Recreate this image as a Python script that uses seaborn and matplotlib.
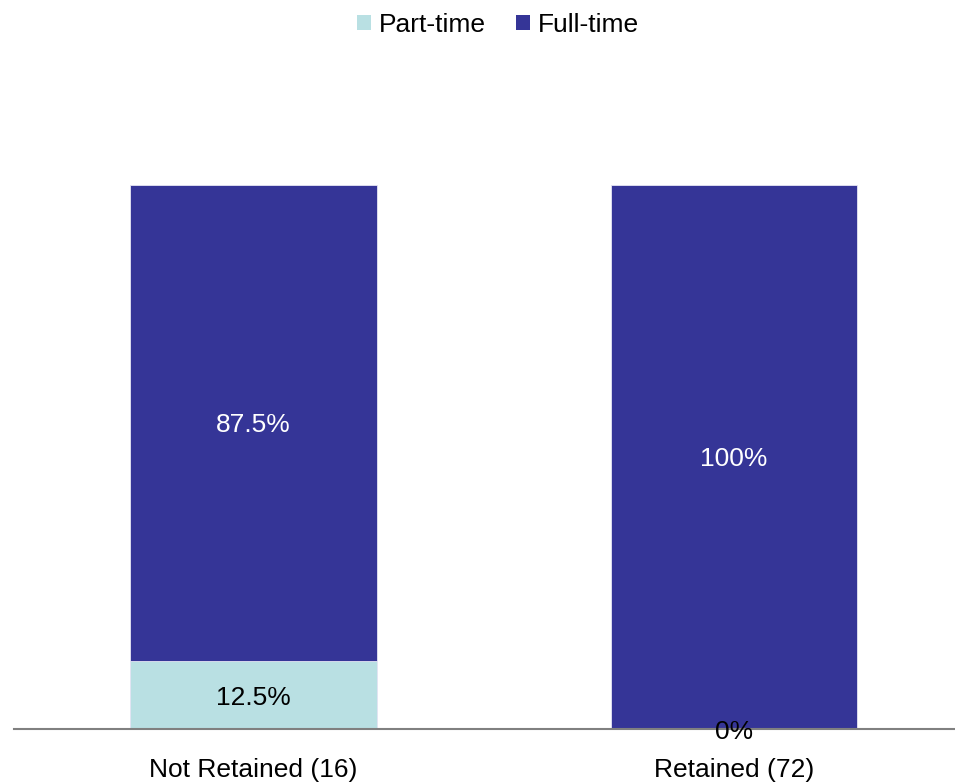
import matplotlib
matplotlib.use("Agg")
import matplotlib.pyplot as plt
from matplotlib.patches import Patch
import seaborn as sns
import pandas as pd

# Employment status share by retention group
categories = ["Not Retained (16)", "Retained (72)"]
part_time = [12.5, 0.0]
full_time = [87.5, 100.0]
series_names = ["Part-time", "Full-time"]

part_color = "#B9E0E3"
full_color = "#353597"

sns.set_theme(style="white")
plt.rcParams["font.family"] = ["Liberation Sans", "DejaVu Sans"]

FS = 19

df = pd.DataFrame({
    "group": categories,
    "part": part_time,
    "full": full_time,
})
df["total"] = df["part"] + df["full"]

fig = plt.figure(figsize=(9.55, 7.83), dpi=100)
ax = fig.add_axes([14 / 955, 1 - 729 / 783, 1 - 14 / 955, (729 - 185) / 783])

# Stacked bars: full stack drawn first, part-time segment overlaid at the base
sns.barplot(data=df, x="group", y="total", color=full_color, saturation=1,
            width=0.514, edgecolor="#e6e6f5", linewidth=0.6, ax=ax)
sns.barplot(data=df, x="group", y="part", color=part_color, saturation=1,
            width=0.514, edgecolor="#e6e6f5", linewidth=0.6, ax=ax)

ax.set_xlim(-0.4985, 1.46)
ax.set_ylim(0, 100)

# Segment value labels
for i, (p, f) in enumerate(zip(part_time, full_time)):
    ax.text(i, p / 2 - 0.6, f"{p:g}%", ha="center", va="center",
            fontsize=FS, color="black")
    ax.text(i, p + f / 2 - 0.3, f"{f:g}%", ha="center", va="center",
            fontsize=FS, color="white")

ax.set_xlabel("")
ax.set_ylabel("")
ax.set_yticks([])
ax.tick_params(axis="x", length=0, labelsize=FS, colors="black", pad=21)
for side in ["top", "right", "left"]:
    ax.spines[side].set_visible(False)
ax.spines["bottom"].set_color("#808080")
ax.spines["bottom"].set_linewidth(1.5)
ax.set_zorder(1)

handles = [Patch(facecolor=part_color, edgecolor="none"),
           Patch(facecolor=full_color, edgecolor="none")]
fig.legend(handles, series_names, loc="center", bbox_to_anchor=(0.5215, 1 - 25 / 783),
           ncol=2, frameon=False, fontsize=FS, handlelength=0.52,
           handleheight=0.52, handletextpad=0.3, columnspacing=1.15,
           labelcolor="black")

fig.savefig("out.png", dpi=100)
